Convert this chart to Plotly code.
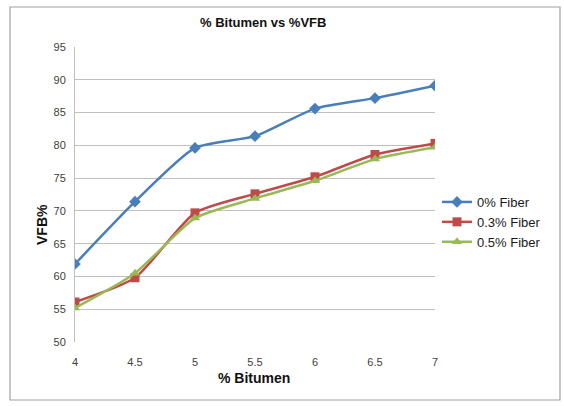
import plotly.graph_objects as go

bitumen = [4, 4.5, 5, 5.5, 6, 6.5, 7]
fiber_0 = [61.9, 71.4, 79.6, 81.4, 85.6, 87.2, 89.1]
fiber_03 = [56.1, 59.8, 69.7, 72.6, 75.2, 78.6, 80.3]
fiber_05 = [55.2, 60.5, 68.9, 71.9, 74.6, 77.9, 79.7]
series_names = ["0% Fiber", "0.3% Fiber", "0.5% Fiber"]
colors = ["#4A7EBB", "#BE4B48", "#98B954"]
symbols = ["diamond", "square", "triangle-up"]

fig = go.Figure()
for name, vals, c, s in zip(series_names, [fiber_0, fiber_03, fiber_05], colors, symbols):
    fig.add_trace(go.Scatter(
        x=bitumen, y=vals, name=name, mode="lines+markers",
        line=dict(color=c, width=2.5, shape="spline", smoothing=0.6),
        marker=dict(symbol=s, size=9, color=c),
    ))

FW, FH = 564, 406
L, T, W, H = 75, 47, 360, 295
B = T + H


def px(x):
    return (x - L) / W


def py(y):
    return (B - y) / H


fig.update_layout(
    width=FW, height=FH,
    margin=dict(l=L, r=FW - L - W, t=T, b=FH - T - H),
    paper_bgcolor="white", plot_bgcolor="white",
    font=dict(family="Liberation Sans, Arial", size=11, color="#404040"),
    showlegend=True,
    legend=dict(x=px(437), y=py(187), xanchor="left", yanchor="top",
                font=dict(size=13, color="#1a1a1a"), bgcolor="rgba(0,0,0,0)",
                itemwidth=30, tracegroupgap=2),
    xaxis=dict(range=[4, 7], tickmode="array", tickvals=bitumen,
               ticktext=["4", "4.5", "5", "5.5", "6", "6.5", "7"],
               showgrid=False, zeroline=False, showline=False, ticks="",
               ticklabelstandoff=12, tickfont=dict(size=11, color="#404040")),
    yaxis=dict(range=[50, 95], dtick=5, showgrid=True, gridcolor="#BFBFBF", gridwidth=1.3,
               zeroline=False, showline=True, linecolor="#BFBFBF", linewidth=1, ticks="",
               ticklabelstandoff=6, tickfont=dict(size=11, color="#404040")),
    annotations=[
        dict(text="<b>% Bitumen vs %VFB</b>", xref="paper", yref="paper",
             x=px(263), y=py(22), showarrow=False,
             font=dict(size=13, color="#111111"), xanchor="center", yanchor="middle"),
        dict(text="<b>% Bitumen</b>", xref="paper", yref="paper",
             x=px(254), y=py(378), showarrow=False,
             font=dict(size=14, color="#111111"), xanchor="center", yanchor="middle"),
        dict(text="<b>VFB%</b>", xref="paper", yref="paper", textangle=-90,
             x=px(42), y=py(225), showarrow=False,
             font=dict(size=14, color="#111111"), xanchor="center", yanchor="middle"),
    ],
    shapes=[dict(type="rect", xref="paper", yref="paper",
                 x0=px(10), x1=px(560), y0=py(400), y1=py(7),
                 line=dict(color="#A0A0A0", width=1.2), fillcolor="rgba(0,0,0,0)", layer="below")],
)

fig.write_html("out.html",
               config={"displayModeBar": False},
               post_script="document.body.style.margin='0';document.body.style.overflow='hidden';")
